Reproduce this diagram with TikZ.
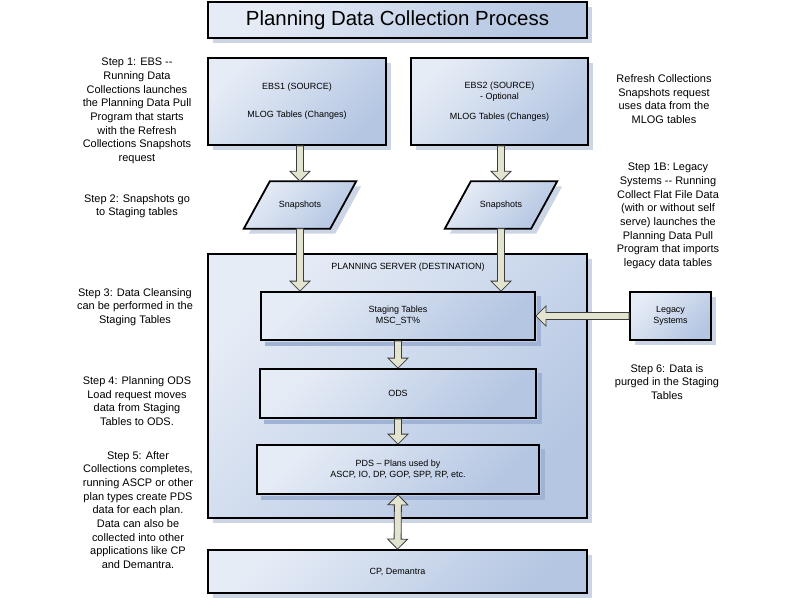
\documentclass[tikz,border=0pt]{standalone}
\usepackage{fontspec}
\setmainfont{Liberation Sans}
\usetikzlibrary{shapes,shadows,calc}
\pgfdeclarelayer{background}
\pgfsetlayers{background,main}
\definecolor{boxlight}{RGB}{230,236,246}
\definecolor{boxdark}{RGB}{180,198,226}
\definecolor{shadowout}{RGB}{203,213,230}
\definecolor{shadowin}{RGB}{160,179,213}
\definecolor{arrowfill}{RGB}{227,228,208}
\definecolor{arrowline}{RGB}{60,60,60}
\tikzstyle{boxbase}=[draw=black,line width=1.8bp,left color=boxlight,right color=boxdark,shading angle=45]
\tikzstyle{boxshade}=[boxbase,drop shadow={shadow xshift=5bp,shadow yshift=-5bp,fill=shadowout,opacity=1}]
\tikzstyle{box}=[boxshade,align=center,inner sep=0pt,font=\fontsize{9}{11}\selectfont]
\tikzstyle{inbox}=[boxbase,align=center,inner sep=0pt,font=\fontsize{9}{11}\selectfont]
\tikzstyle{snap}=[align=center,inner sep=0pt,minimum width=112bp,minimum height=47bp,font=\fontsize{9}{11}\selectfont]
\tikzstyle{note}=[align=center,inner sep=0pt,font=\fontsize{11}{13.7}\selectfont]
\tikzstyle{blockarr}=[fill=arrowfill,draw=arrowline,line width=0.8bp,line join=miter]
% block arrow with one head, from #1 to #2
\newcommand{\blockarrow}[2]{%
  \coordinate (hb) at ($(#2)!10bp!(#1)$);
  \filldraw[blockarr] ($(#1)!3.5bp!90:(#2)$) -- ($(hb)!3.5bp!90:(#2)$) -- ($(hb)!10bp!90:(#2)$)
    -- (#2) -- ($(hb)!10bp!-90:(#2)$) -- ($(hb)!3.5bp!-90:(#2)$) -- ($(#1)!3.5bp!-90:(#2)$) -- cycle;}
% block arrow with two heads
\newcommand{\dblockarrow}[2]{%
  \coordinate (ha) at ($(#1)!10bp!(#2)$);
  \coordinate (hb) at ($(#2)!10bp!(#1)$);
  \filldraw[blockarr] (#1) -- ($(ha)!10bp!90:(#2)$) -- ($(ha)!3.5bp!90:(#2)$) -- ($(hb)!3.5bp!90:(#2)$)
    -- ($(hb)!10bp!90:(#2)$) -- (#2) -- ($(hb)!10bp!-90:(#2)$) -- ($(hb)!3.5bp!-90:(#2)$)
    -- ($(ha)!3.5bp!-90:(#2)$) -- ($(ha)!10bp!-90:(#2)$) -- cycle;}

\begin{document}
\begin{tikzpicture}[x=1bp,y=-1bp]
    \useasboundingbox (0,0) rectangle (800,600);
    % Title
    \node[box,minimum width=379bp,minimum height=36bp,font=\fontsize{20.5}{24}\selectfont] (title) at (397.5,20) {Planning Data Collection Process};
    % Source systems
    \node[box,minimum width=178bp,minimum height=87bp] (ebs1) at (297,101.5) {EBS1 (SOURCE)\\[17bp]MLOG Tables (Changes)};
    \node[box,minimum width=177bp,minimum height=87bp] (ebs2) at (499.5,101.5) {EBS2 (SOURCE)\\- Optional\\[9bp]MLOG Tables (Changes)};
    \node[snap] (snap1) at (300,205) {Snapshots};
    \node[snap] (snap2) at (501,205) {Snapshots};
    % the parallelograms go behind the snapshot texts
    \begin{pgfonlayer}{background}
    \foreach \name in {snap1, snap2}
        \path[boxshade] ($(\name.north west)+(26,0)$) -- (\name.north east)
            -- ($(\name.south east)+(-26,0)$) -- (\name.south west) -- cycle;
    \end{pgfonlayer}
    % Planning server and its tables
    \node[box,minimum width=379bp,minimum height=264bp] (server) at (397.5,386) {};
    \node[font=\fontsize{9}{11}\selectfont] (srvlabel) at (408,267) {PLANNING SERVER (DESTINATION)};
    \node[inbox,minimum width=274bp,minimum height=48bp] (stage) at (398,316) {Staging Tables\\MSC\_ST\%};
    \node[inbox,minimum width=276bp,minimum height=49bp] (ods) at (398,393.5) {ODS};
    \node[inbox,minimum width=282bp,minimum height=49bp] (pds) at (398,469.5) {PDS -- Plans used by\\ASCP, IO, DP, GOP, SPP, RP, etc.};
    % shadows of the inner tables
    \foreach \name in {stage, ods, pds}
        \fill[shadowin] ($(\name.north east)+(0.9,5)$) -- ($(\name.north east)+(5,5)$) -- ($(\name.south east)+(5,5)$)
            -- ($(\name.south west)+(5,5)$) -- ($(\name.south west)+(5,0.9)$) -- ($(\name.south east)+(0.9,0.9)$) -- cycle;
    \node[box,minimum width=379bp,minimum height=43bp] (cp) at (397.5,571.5) {CP, Demantra};
    \node[box,minimum width=81bp,minimum height=48bp] (legacy) at (670.5,316) {Legacy\\Systems};
    % Step notes
    \node[note] (step1) at (137,111) {Step 1: EBS -{}-\\Running Data\\Collections launches\\the Planning Data Pull\\Program that starts\\with the Refresh\\Collections Snapshots\\request};
    \node[note] (step2) at (137,206) {Step 2: Snapshots go\\to Staging tables};
    \node[note] (step3) at (135,307) {Step 3: Data Cleansing\\can be performed in the\\Staging Tables};
    \node[note] (step4) at (137,401) {Step 4: Planning ODS\\Load request moves\\data from Staging\\Tables to ODS.};
    \node[note] (step5) at (138,510) {Step 5: After\\Collections completes,\\running ASCP or other\\plan types create PDS\\data for each plan.\\Data can also be\\collected into other\\applications like CP\\and Demantra.};
    \node[note] (refresh) at (664,99) {Refresh Collections\\Snapshots request\\uses data from the\\MLOG tables};
    \node[note] (step1b) at (668,216) {Step 1B: Legacy\\Systems -{}- Running\\Collect Flat File Data\\(with or without self\\serve) launches the\\Planning Data Pull\\Program that imports\\legacy data tables};
    \node[note] (step6) at (667,382) {Step 6: Data is\\purged in the Staging\\Tables};
    % Arrows between the boxes
    \coordinate (e1) at (snap1.north |- ebs1.south);
    \coordinate (e2) at (snap2.north |- ebs2.south);
    \coordinate (s1) at (snap1.south |- stage.north);
    \coordinate (s2) at (snap2.south |- stage.north);
    \coordinate (lg) at (legacy.west -| stage.east);
    \foreach \source/\dest in {e1/snap1.north, e2/snap2.north, snap1.south/s1, snap2.south/s2,
        legacy.west/lg, stage.south/ods.north, ods.south/pds.north}
        \blockarrow{\source}{\dest};
    \dblockarrow{pds.south}{cp.north};
\end{tikzpicture}
\end{document}
